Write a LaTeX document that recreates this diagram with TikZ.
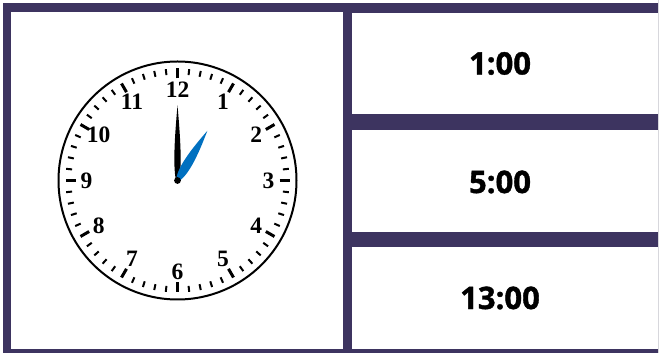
\documentclass[tikz,border=0pt]{standalone}
\usepackage{fontspec}
\usepackage{tikz}
\usetikzlibrary{positioning, calc}
\setsansfont{Open Sans}[BoldFeatures={FakeBold=1.2}]
\newfontfamily\clockfont{Liberation Serif}
\definecolor{framepurple}{RGB}{61,52,96}
\definecolor{handblue}{RGB}{0,112,192}
\definecolor{edgegray}{RGB}{215,215,220}

\begin{document}
\begin{tikzpicture}[
    x=1pt, y=1pt,
    panel/.style = {rectangle, fill=white, inner sep=0pt, outer sep=0pt},
    timelabel/.style = {font=\sffamily\bfseries\fontsize{31}{31}\selectfont, inner sep=0pt},
    numlabel/.style = {font=\clockfont\bfseries\fontsize{23.5}{23.5}\selectfont, inner sep=0pt},
    minortick/.style = {line width=2pt},
    majortick/.style = {line width=3pt}
]
\useasboundingbox (0,0) rectangle (659,353);

% Frame: dark background, white panels cut out of it
\fill[framepurple] (3,0) rectangle (658,350);
\draw[edgegray, line width=1pt] (658.5,0) -- (658.5,353);

% Left panel (clock)
\node (clockpanel) [panel, minimum width=332pt, minimum height=337pt] at (177,172.5) {};

% Right panels (times)
\node (box1) [panel, minimum width=306pt, minimum height=101pt] at (505,289.5) {};
\node (box2) [panel, minimum width=306pt, minimum height=102pt] at (505,172) {};
\node (box3) [panel, minimum width=306pt, minimum height=102pt] at (505,55) {};

\node (t1) [timelabel] at ([xshift=-5pt]box1.center) {1:00};
\node (t2) [timelabel] at ([xshift=-5pt,yshift=-1pt]box2.center) {5:00};
\node (t3) [timelabel] at ([xshift=-5pt]box3.center) {13:00};

% Clock face
\coordinate (c) at (177.5,172.5);
\node (face) [circle, draw=black, line width=2pt, minimum size=238pt, inner sep=0pt] at (c) {};

% Minute ticks
\foreach \m in {0,...,59} {
  \pgfmathsetmacro{\ang}{90-6*\m}
  \pgfmathtruncatemacro{\isfive}{mod(\m,5)==0}
  \ifnum\isfive=1
    \draw[majortick] ($(c)+(\ang:102)$) -- ($(c)+(\ang:112)$);
  \else
    \draw[minortick] ($(c)+(\ang:106)$) -- ($(c)+(\ang:112)$);
  \fi
}

% Hour numbers
\foreach \h in {1,...,12} {
  \node (num\h) [numlabel] at ($(c)+({90-30*\h}:91)$) {\h};
}

% Hands
\begin{scope}[shift={(c)}, rotate=90]
  \fill[black] (0,-1.5) .. controls (16,-5) and (50,-2.2) .. (75,0)
               .. controls (50,2.2) and (16,5) .. (0,1.5) -- cycle;
\end{scope}
\begin{scope}[shift={(c)}, rotate=59]
  \fill[handblue] (0,-1.5) .. controls (12,-7.5) and (38,-3.5) .. (58,0)
                  .. controls (38,3.5) and (12,7.5) .. (0,1.5) -- cycle;
\end{scope}
\fill[black] (c) circle (3.4pt);

\end{tikzpicture}
\end{document}
